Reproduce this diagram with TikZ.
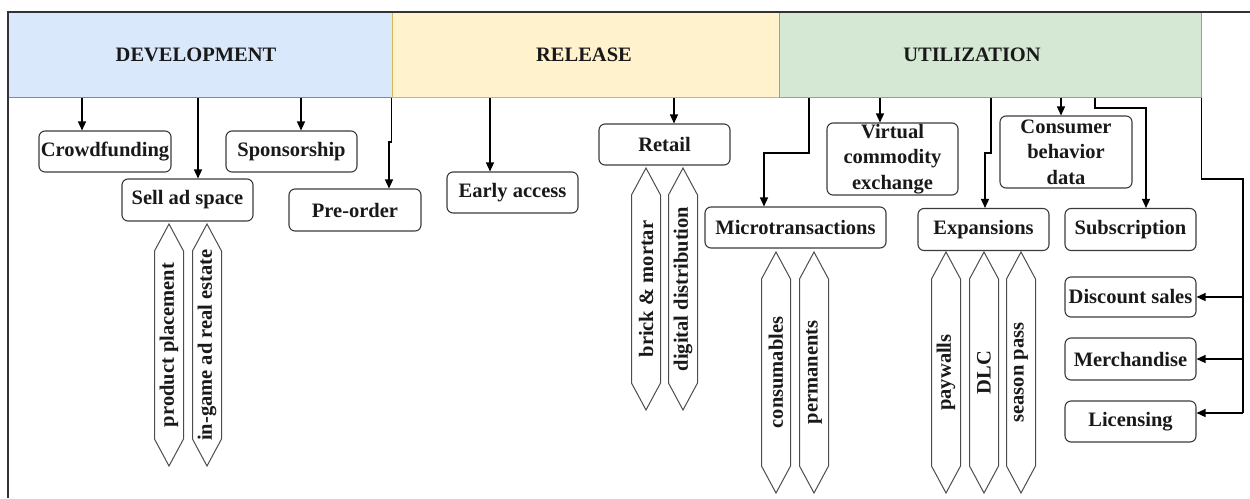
\documentclass[tikz,border=0pt]{standalone}
\usepackage{fontspec}
\setmainfont{Liberation Serif}
\usetikzlibrary{arrows.meta}
\definecolor{devfill}{HTML}{DAE8FC}\definecolor{devdraw}{HTML}{6C8EBF}
\definecolor{relfill}{HTML}{FFF2CC}\definecolor{reldraw}{HTML}{D6B656}
\definecolor{utlfill}{HTML}{D5E8D4}\definecolor{utldraw}{HTML}{82B366}
\definecolor{boxdraw}{HTML}{3A3A3A}
\newcommand\hexnode[5]{%
  \draw[hexline] (#2,#3) -- ({#2+14.5},{#3+27}) -- ({#2+14.5},{#4-27}) -- (#2,#4)
     -- ({#2-14.5},{#4-27}) -- ({#2-14.5},{#3+27}) -- cycle;
  \node[rot] (#1) at (#2,{(#3+#4)/2}) {#5};}
\begin{document}
\begin{tikzpicture}[x=1pt,y=-1pt,
  txt/.style={font=\bfseries\fontsize{20.5}{25.5}\selectfont, align=center, inner sep=0pt, text=black!90},
  box/.style={txt, draw=boxdraw, line width=1.1pt, rounded corners=6pt},
  band/.style={line width=1pt, inner sep=0pt},
  hexline/.style={draw=black!70, line width=1pt, line join=miter},
  rot/.style={txt, rotate=90},
  arr/.style={draw=black, line width=1.3pt, -{Triangle[length=9pt,width=8pt]}},
  wire/.style={draw=black, line width=1.3pt},
  frame/.style={draw=black!80, line width=1.5pt}]
\useasboundingbox (0,0) rectangle (1250,498);
% header bands
\node[band, fill=devfill, draw=devdraw, minimum width=384pt, minimum height=85pt] (dev) at (200,54.5) {};
\node[band, fill=relfill, draw=reldraw, minimum width=387pt, minimum height=85pt] (rel) at (585.5,54.5) {};
\node[band, fill=utlfill, draw=utldraw, minimum width=422pt, minimum height=85pt] (utl) at (990,54.5) {};
\node[txt] (devt) at (196,55) {DEVELOPMENT};
\node[txt] (relt) at (584,55) {RELEASE};
\node[txt] (utlt) at (972,55) {UTILIZATION};
\draw[frame] (1250,12) -- (8,12) -- (8,498);
% boxes
\node[box, minimum width=132pt, minimum height=41pt] (crowd) at (105,151.5) {Crowdfunding};
\node[box, minimum width=131pt, minimum height=42pt] (sell) at (187.5,200) {Sell ad space};
\node[box, minimum width=131pt, minimum height=41pt] (spons) at (291.5,151.5) {Sponsorship};
\node[box, minimum width=132pt, minimum height=42pt] (pre) at (355,210) {Pre-order};
\node[box, minimum width=131pt, minimum height=41pt] (early) at (512.5,192.5) {Early access};
\node[box, minimum width=131pt, minimum height=41pt] (retail) at (664.5,144.5) {Retail};
\node[box, minimum width=181pt, minimum height=41pt] (micro) at (795.5,227.5) {Microtransactions};
\node[box, minimum width=131pt, minimum height=72pt] (virt) at (892.5,159) {Virtual\\commodity\\exchange};
\node[box, minimum width=132pt, minimum height=72pt] (cons) at (1066,152) {Consumer\\behavior\\data};
\node[box, minimum width=131pt, minimum height=42pt] (exp) at (983.5,229.5) {Expansions};
\node[box, minimum width=131pt, minimum height=42pt] (subs) at (1130.5,229.5) {Subscription};
\node[box, minimum width=131pt, minimum height=40pt] (disc) at (1130.5,297) {Discount sales};
\node[box, minimum width=131pt, minimum height=42pt] (merch) at (1130.5,359) {Merchandise};
\node[box, minimum width=131pt, minimum height=41pt] (lic) at (1130.5,421.5) {Licensing};
% hexagons
\hexnode{pp}{169}{224}{466}{product placement}
\hexnode{ig}{207}{224}{466}{in-game ad real estate}
\hexnode{bm}{646}{168}{410}{brick \& mortar}
\hexnode{dd}{683}{168}{410}{digital distribution}
\hexnode{co}{776}{252}{493}{consumables}
\hexnode{pe}{814}{252}{493}{permanents}
\hexnode{pw}{946}{252}{493}{paywalls}
\hexnode{dl}{984}{252}{493}{DLC}
\hexnode{sp}{1021}{252}{493}{season pass}
% connector coordinates
\coordinate (a1) at (82,0);
\coordinate (a2) at (198,0);
\coordinate (a3) at (301,0);
\coordinate (j1) at (389,142);
\coordinate (a5) at (490,0);
\coordinate (a6) at (674,0);
\coordinate (s7) at (809,0);
\coordinate (j7) at (764,153);
\coordinate (a8) at (880,0);
\coordinate (s9) at (991,0);
\coordinate (j9) at (985,153);
\coordinate (a10) at (1061,0);
\coordinate (s11) at (1095,0);
\coordinate (j11) at (1146,108);
\coordinate (j12) at (1243,179);
\coordinate (e12) at (1243,413);
% connectors
\draw[arr] (a1 |- dev.south) -- (a1 |- crowd.north);
\draw[arr] (a2 |- dev.south) -- (a2 |- sell.north);
\draw[arr] (a3 |- dev.south) -- (a3 |- spons.north);
\draw[arr] (rel.south west) |- (j1) -- (j1 |- pre.north);
\draw[arr] (a5 |- rel.south) -- (a5 |- early.north);
\draw[arr] (a6 |- rel.south) -- (a6 |- retail.north);
\draw[arr] (s7 |- utl.south) |- (j7) -- (j7 |- micro.north);
\draw[arr] (a8 |- utl.south) -- (a8 |- virt.north);
\draw[arr] (s9 |- utl.south) |- (j9) -- (j9 |- exp.north);
\draw[arr] (a10 |- utl.south) -- (a10 |- cons.north);
\draw[arr] (s11 |- utl.south) |- (j11) -- (j11 |- subs.north);
\draw[wire] (utl.south east) |- (j12) -- (e12);
\draw[arr] (e12) -- (e12 -| lic.east);
\draw[arr] (j12 |- disc.east) -- (disc.east);
\draw[arr] (j12 |- merch.east) -- (merch.east);
\end{tikzpicture}
\end{document}
